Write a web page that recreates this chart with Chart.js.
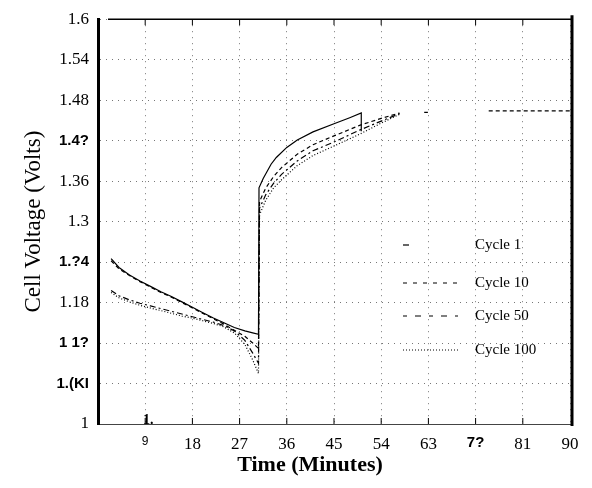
<!DOCTYPE html>
<html>
<head>
<meta charset="utf-8">
<script src="https://cdn.jsdelivr.net/npm/chart.js@4/dist/chart.umd.min.js"></script>
<style>
  body { margin: 0; background: #fff; }
</style>
</head>
<body>
<canvas id="voltChart" width="592" height="488"></canvas>
<script>
// tick values and labels (as printed on the scan)
const xTicks = [0, 9, 18, 27, 36, 45, 54, 63, 72, 81, 90];
const xLabels = ["", "9", "18", "27", "36", "45", "54", "63", "7?", "81", "90"];
const yTicks = [1, 1.06, 1.12, 1.18, 1.24, 1.3, 1.36, 1.42, 1.48, 1.54, 1.6];
const yLabels = ["1", "1.(KI", "1 1?", "1.18", "1.?4", "1.3", "1.36", "1.4?", "1.48", "1.54", "1.6"];

// discharge part (minutes / volts)
const dischargeTime = [2.5, 4, 6, 8, 10, 12, 14, 16, 18, 20, 22, 24, 26, 28, 29.5, 30.6];
const cycle1Discharge = [1.245, 1.232, 1.221, 1.212, 1.204, 1.196, 1.189, 1.181, 1.173, 1.165, 1.157, 1.150, 1.143, 1.138, 1.135, 1.133];
const cycle10Discharge = [1.242, 1.230, 1.220, 1.211, 1.203, 1.195, 1.188, 1.180, 1.172, 1.164, 1.156, 1.148, 1.139, 1.130, 1.120, 1.112];
const cycle50Discharge = [1.198, 1.190, 1.184, 1.179, 1.175, 1.171, 1.167, 1.163, 1.159, 1.155, 1.151, 1.146, 1.138, 1.124, 1.105, 1.090];
const cycle100Discharge = [1.195, 1.187, 1.181, 1.176, 1.172, 1.168, 1.164, 1.160, 1.157, 1.153, 1.149, 1.144, 1.135, 1.118, 1.095, 1.075];

// charge part
const cycle1ChargeTime = [30.7, 31.5, 33, 34, 36, 38, 41, 45, 48, 50.2, 50.2];
const cycle1Charge = [1.350, 1.364, 1.385, 1.395, 1.410, 1.421, 1.433, 1.445, 1.454, 1.461, 1.434];
const chargeTime = [30.8, 32, 33.5, 35, 38, 41, 45, 50, 54, 57.5];
const cycle10Charge = [1.330, 1.350, 1.367, 1.380, 1.400, 1.414, 1.427, 1.443, 1.453, 1.461];
const cycle50Charge = [1.320, 1.340, 1.357, 1.370, 1.390, 1.405, 1.418, 1.436, 1.449, 1.460];
const cycle100Charge = [1.310, 1.332, 1.350, 1.362, 1.383, 1.398, 1.412, 1.430, 1.446, 1.459];

// stray trace at the top right of the scan
const tailTime = [62.2, 62.9, 74.5, 90];
const tailVolts = [1.462, 1.462, 1.464, 1.464];

function pts(t1, v1, t2, v2) {
    const out = t1.map((t, i) => ({ x: t, y: v1[i] }));
    t2.forEach((t, i) => out.push({ x: t, y: v2[i] }));
    return out;
}

const cycle10Data = pts(dischargeTime, cycle10Discharge, chargeTime, cycle10Charge);
cycle10Data.push({ x: 60, y: null });
cycle10Data.push({ x: tailTime[0], y: tailVolts[0] }, { x: tailTime[1], y: tailVolts[1] });
cycle10Data.push({ x: 70, y: null });
cycle10Data.push({ x: tailTime[2], y: tailVolts[2] }, { x: tailTime[3], y: tailVolts[3] });

const serif = "'Liberation Serif', 'Times New Roman', serif";
const sans = "'Liberation Sans', Arial, sans-serif";

const legendItems = [
    { label: "Cycle 1", dash: [], from: 403, to: 409, y: 245 },
    { label: "Cycle 10", dash: [4, 6], from: 403, to: 458, y: 283 },
    { label: "Cycle 50", dash: [4, 8, 6, 8], from: 403, to: 458, y: 316 },
    { label: "Cycle 100", dash: [1, 2], from: 403, to: 458, y: 350 }
];

const framePlugin = {
    id: "frame",
    afterDraw(chart) {
        const ctx = chart.ctx;
        const a = chart.chartArea;
        const xs = chart.scales.x;
        ctx.save();
        ctx.strokeStyle = "#000";
        // top border
        ctx.lineWidth = 1.5;
        ctx.beginPath();
        ctx.moveTo(a.left + 10, a.top);
        ctx.lineTo(a.right + 2, a.top);
        ctx.stroke();
        // right border
        ctx.lineWidth = 3;
        ctx.beginPath();
        ctx.moveTo(a.right + 2, a.top - 4);
        ctx.lineTo(a.right + 2, a.bottom + 2);
        ctx.stroke();
        // tick marks on top and bottom
        ctx.lineWidth = 1;
        xTicks.slice(1, -1).forEach(v => {
            const px = xs.getPixelForValue(v);
            ctx.beginPath();
            ctx.moveTo(px, a.top);
            ctx.lineTo(px, a.top + 6);
            ctx.moveTo(px, a.bottom);
            ctx.lineTo(px, a.bottom - 6);
            ctx.stroke();
        });
        // legend
        ctx.lineWidth = 1.2;
        ctx.font = "15px " + serif;
        ctx.fillStyle = "#000";
        ctx.textBaseline = "middle";
        legendItems.forEach(it => {
            ctx.setLineDash(it.dash);
            ctx.beginPath();
            ctx.moveTo(it.from, it.y);
            ctx.lineTo(it.to, it.y);
            ctx.stroke();
            ctx.fillText(it.label, 475, it.y);
        });
        ctx.setLineDash([]);
        ctx.font = "bold 14px " + serif;
        ctx.fillText("1.", 143, a.bottom - 4);
        // x axis title, set a bit left of centre like the scan
        ctx.font = "bold 22px " + serif;
        ctx.textAlign = "center";
        ctx.fillText("Time (Minutes)", 310, 465);
        ctx.restore();
    }
};

const boldY = new Set([1, 2, 4, 7]);

new Chart(document.getElementById("voltChart"), {
    type: "line",
    data: {
        datasets: [
            {
                label: "Cycle 1",
                data: pts(dischargeTime, cycle1Discharge, cycle1ChargeTime, cycle1Charge),
                borderColor: "#000",
                borderWidth: 1.2
            },
            {
                label: "Cycle 10",
                data: cycle10Data,
                borderColor: "#000",
                borderWidth: 1.2,
                borderDash: [4, 3]
            },
            {
                label: "Cycle 50",
                data: pts(dischargeTime, cycle50Discharge, chargeTime, cycle50Charge),
                borderColor: "#000",
                borderWidth: 1.2,
                borderDash: [6, 3, 2, 3]
            },
            {
                label: "Cycle 100",
                data: pts(dischargeTime, cycle100Discharge, chargeTime, cycle100Charge),
                borderColor: "#000",
                borderWidth: 1.2,
                borderDash: [1, 2]
            }
        ]
    },
    options: {
        responsive: false,
        animation: false,
        parsing: false,
        spanGaps: false,
        elements: { point: { radius: 0 }, line: { tension: 0 } },
        layout: { padding: { left: 0, right: 22, top: 18, bottom: 0 } },
        plugins: {
            legend: { display: false },
            tooltip: { enabled: false }
        },
        scales: {
            x: {
                type: "linear",
                min: 0,
                max: 90,
                afterBuildTicks: s => { s.ticks = xTicks.map(v => ({ value: v })); },
                afterFit: s => { s.height = 64; },
                grid: { color: "#777", lineWidth: 1, drawTicks: false },
                border: { display: true, color: "#444", width: 1, dash: [1, 5] },
                ticks: {
                    autoSkip: false,
                    maxRotation: 0,
                    padding: 10,
                    color: "#000",
                    callback: (v, i) => xLabels[i],
                    font: c => c.index === 1 ? { family: sans, size: 12 }
                        : c.index === 8 ? { family: sans, size: 15, weight: "bold" }
                        : { family: serif, size: 17 }
                }
            },
            y: {
                min: 1,
                max: 1.6,
                afterBuildTicks: s => { s.ticks = yTicks.map(v => ({ value: v })); },
                afterFit: s => { s.width = 98; },
                grid: { color: "#777", lineWidth: 1, drawTicks: false },
                border: { display: true, color: "#000", width: 3, dash: [1, 5] },
                ticks: {
                    padding: 9,
                    color: "#000",
                    callback: (v, i) => yLabels[i],
                    font: c => boldY.has(c.index) ? { family: sans, size: 15, weight: "bold" }
                        : { family: serif, size: 17 }
                },
                title: {
                    display: true,
                    text: "Cell Voltage (Volts)",
                    color: "#000",
                    font: { family: serif, size: 23 },
                    padding: { top: 20, bottom: 0 }
                }
            }
        }
    },
    plugins: [framePlugin]
});
</script>
</body>
</html>
